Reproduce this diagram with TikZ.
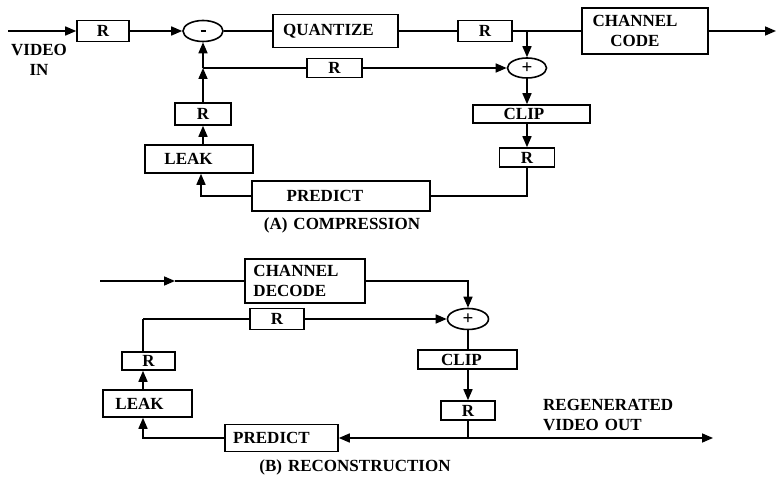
\documentclass[tikz,border=0pt]{standalone}
\usepackage{fontspec}
\setmainfont{Liberation Serif}
\usetikzlibrary{arrows.meta,shapes.geometric}
\tikzset{
  wh/.style 2 args={minimum width=#1pt, minimum height=#2pt},
  blk/.style={draw, line width=1.6pt, inner sep=0pt, font=\fontsize{17}{20}\selectfont\bfseries, align=center},
  sumnode/.style={draw, ellipse, line width=1.6pt, inner sep=0pt, minimum width=40pt, minimum height=21pt, font=\fontsize{19}{20}\selectfont\bfseries},
  wire/.style={line width=1.6pt},
  arr/.style={wire, -{Triangle[length=11pt,width=9pt]}},
  lbl/.style={font=\fontsize{17}{20}\selectfont\bfseries, align=center, inner sep=0pt}
}
\begin{document}
\begin{tikzpicture}[x=1pt,y=-1pt]
\useasboundingbox (0,0) rectangle (777,478);
% ---------- (A) compression ----------
\coordinate (vin) at (8,31);
\coordinate (out1) at (776,31);
\node[blk, wh={52}{21}] (r1) at (103,31) {R};
\node[sumnode] (sub) at (203,31) {\rule{5pt}{1.6pt}};
\node[blk, wh={125}{33}] (quant) at (335.5,31) {QUANTIZE\rule{14pt}{0pt}};
\node[blk, wh={54}{21}] (r2) at (485,31) {R};
\node[blk, wh={126}{46}] (chcode) at (645,31) {CHANNEL\rule{20pt}{0pt}\\CODE\rule{20pt}{0pt}};
\coordinate (j2) at (527,31);
\node[sumnode, minimum width=39pt, minimum height=20pt] (plus1) at (527,68) {+};
\node[blk, wh={55}{19}] (r3) at (334.5,68) {R};
\coordinate (j1) at (203,68);
\node[blk, wh={117}{18}] (clip1) at (531.5,114) {CLIP\rule{15pt}{0pt}};
\node[blk, wh={55}{19}] (r4) at (527,157.5) {R};
\node[blk, wh={56}{22}] (rL1) at (203,114) {R};
\node[blk, wh={108}{28}] (leak1) at (199,159) {LEAK\rule{21pt}{0pt}};
\node[blk, wh={178}{30}] (pred1) at (341,196) {PREDICT\rule{32pt}{0pt}};
\coordinate (xl1) at (201,0);
\node[lbl] (vidin) at (39,60) {VIDEO\\IN};
\node[lbl] (capA) at (342,225) {(A)\hspace{6pt}COMPRESSION};

\draw[arr] (vin) -- (r1.west);
\draw[arr] (r1.east) -- (sub.west);
\draw[wire] (sub.east) -- (quant.west);
\draw[wire] (quant.east) -- (r2.west);
\draw[wire] (r2.east) -- (chcode.west);
\draw[arr] (chcode.east) -- (out1);
\draw[arr] (j2) -- (plus1.north);
\draw[arr] (rL1.north) -- (j1);
\draw[arr] (j1) -- (sub.south);
\draw[wire] (j1) -- (r3.west);
\draw[arr] (r3.east) -- (plus1.west);
\draw[arr] (plus1.south) -- (plus1.south |- clip1.north);
\draw[arr] (r4.north |- clip1.south) -- (r4.north);
\draw[wire] (r4.south) |- (pred1.east);
\draw[arr] (pred1.west) -| (xl1 |- leak1.south);
\draw[arr] (rL1.south |- leak1.north) -- (rL1.south);

% ---------- (B) reconstruction ----------
\coordinate (vin2) at (100,281);
\coordinate (m2) at (175,281);
\node[blk, wh={120}{44}, align=left] (cdec) at (305,281) {CHANNEL\rule{18pt}{0pt}\\DECODE};
\node[sumnode, minimum width=41pt] (plus2) at (468,319) {+};
\node[blk, wh={54}{21}] (r5) at (277,319) {R};
\node[blk, wh={99}{19}] (clip2) at (467.5,359.5) {CLIP\rule{12pt}{0pt}};
\node[blk, wh={54}{19}] (r6) at (468,410.5) {R};
\coordinate (j3) at (468,438);
\coordinate (out2) at (713,438);
\node[blk, wh={53}{18}] (rL2) at (148.5,361) {R};
\node[blk, wh={89}{27}] (leak2) at (147.5,403.5) {LEAK\rule{16pt}{0pt}};
\node[blk, wh={113}{27}] (pred2) at (281.5,438) {PREDICT\rule{20pt}{0pt}};
\coordinate (xl2) at (143,0);
\coordinate (j4) at (143,319);
\node[lbl] (capB) at (355,467) {(B)\hspace{6pt}RECONSTRUCTION};
\node[lbl, align=left, anchor=west] (regen) at (543,415) {REGENERATED\\VIDEO\hspace{6pt}OUT};

\draw[arr] (vin2) -- (m2);
\draw[wire] (m2) -- (cdec.west);
\draw[arr] (cdec.east) -| (plus2.north);
\draw[wire] (j4) -- (r5.west);
\draw[arr] (r5.east) -- (plus2.west);
\draw[wire] (plus2.south) -- (plus2.south |- clip2.north);
\draw[arr] (r6.north |- clip2.south) -- (r6.north);
\draw[wire] (r6.south) -- (j3);
\draw[arr] (j3) -- (out2);
\draw[arr] (j3) -- (pred2.east);
\draw[arr] (pred2.west) -| (xl2 |- leak2.south);
\draw[arr] (xl2 |- leak2.north) -- (xl2 |- rL2.south);
\draw[wire] (xl2 |- rL2.north) -- (j4);
\end{tikzpicture}
\end{document}
